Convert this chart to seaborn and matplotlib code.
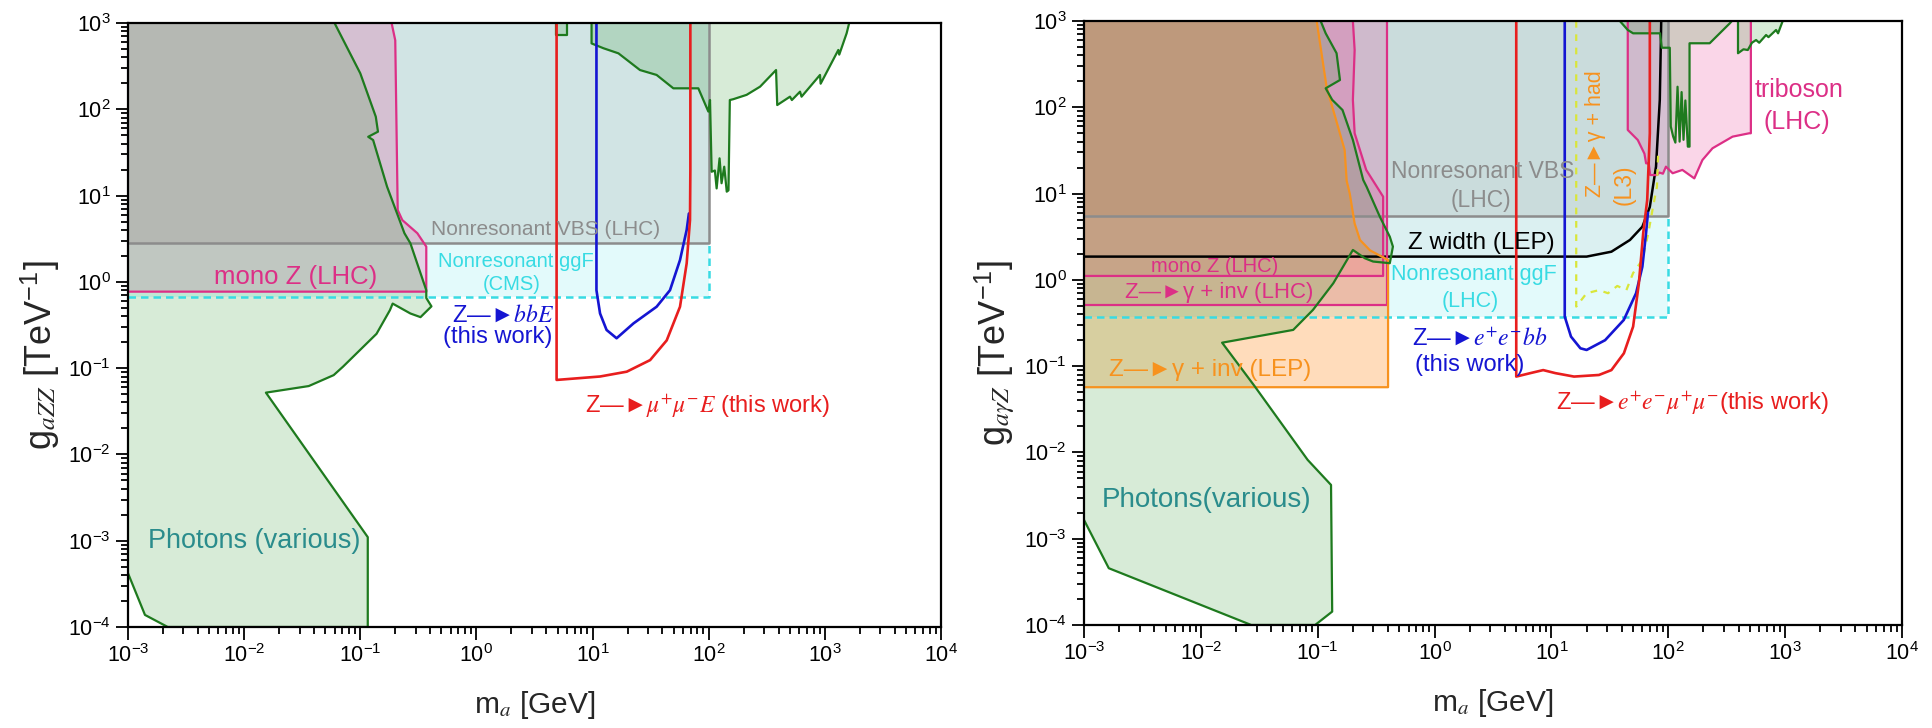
import matplotlib
matplotlib.use("Agg")
import matplotlib.pyplot as plt
import seaborn as sns

# ---------------- left panel: g_aZZ ----------------
# photon bounds (various)
photon_l_m = [0.06, 0.1, 0.136, 0.142, 0.117, 0.129, 0.17, 0.24, 0.27, 0.37, 0.37, 0.41, 0.33,
              0.27, 0.19, 0.18, 0.138, 0.071, 0.059, 0.036, 0.0154, 0.116, 0.116, 2.2e-3, 1.4e-3, 1e-3]
photon_l_g = [1000, 261, 82, 55, 48, 44, 12.7, 3.66, 2.8, 0.8, 0.65, 0.52, 0.39,
              0.43, 0.56, 0.47, 0.25, 0.104, 0.083, 0.062, 0.052, 1.1e-3, 1e-4, 1e-4, 1.38e-4, 4.2e-4]
# collider bounds at higher mass
coll_l1_m = [4.8, 4.8, 6.0, 6.0]
coll_l1_g = [1000, 725, 725, 1000]
coll_l2_m = [9.8, 9.8, 12.4, 16.7, 25.6, 35.6, 49.6, 81.4, 99.3, 102.6, 106, 113, 117, 124, 129,
             136, 143, 148, 152, 163, 212, 277, 380, 389, 501, 520, 611, 630, 908, 920, 1306,
             1330, 1540, 1620]
coll_l2_g = [1000, 580, 510, 445, 285, 250, 175, 175, 94, 128, 18.9, 19.5, 12.1, 27, 13.9,
             21.6, 11.1, 11.5, 128, 131, 147, 183, 285, 112, 140, 128, 160, 140, 250, 198, 487,
             430, 760, 1000]
# mono Z (LHC)
monoz_l_m = [1e-3, 0.37, 0.37, 0.31, 0.23, 0.21, 0.2, 0.186]
monoz_l_g = [0.77, 0.77, 2.56, 3.66, 5.2, 6.8, 630, 1000]
# nonresonant VBS (LHC) and ggF (CMS)
vbs_l_m = [1e-3, 100, 100]
vbs_l_g = [2.84, 2.84, 1000]
ggf_l_m = [1e-3, 100, 100]
ggf_l_g = [0.67, 0.67, 2.84]
# Z -> mu mu E (this work)
mumu_m = [4.9, 4.9, 11.6, 19.7, 31.3, 43.5, 56.6, 64.6, 69.0, 69.5, 69.5]
mumu_g = [1000, 0.073, 0.080, 0.091, 0.124, 0.21, 0.515, 1.64, 5.2, 20, 1000]
# Z -> bbE (this work)
bbE_m = [10.8, 10.8, 11.6, 13.2, 16.1, 22.5, 35.6, 46.4, 56.6, 64.6, 67.5]
bbE_g = [1000, 0.8, 0.43, 0.277, 0.222, 0.33, 0.515, 0.8, 1.79, 4.0, 6.2]

# ---------------- right panel: g_aγZ ----------------
photon_r_m = [0.106, 0.117, 0.145, 0.155, 0.117, 0.133, 0.163, 0.2, 0.245, 0.262, 0.34, 0.414,
              0.44, 0.414, 0.298, 0.253, 0.2, 0.136, 0.091, 0.0617, 0.0152, 0.029, 0.082, 0.13,
              0.133, 0.095, 0.027, 1.63e-3, 1e-3]
photon_r_g = [1000, 720, 423, 207, 166, 122, 93, 41.8, 14.4, 12, 5.4, 3.16,
              2.43, 1.56, 1.63, 1.78, 2.22, 0.914, 0.448, 0.263, 0.187, 0.058, 8.2e-3, 4.2e-3,
              1.43e-4, 1e-4, 1e-4, 4.55e-4, 1.65e-3]
coll_r1_m = [38.5, 45, 50, 85, 88, 103, 105, 110, 115, 120, 125, 130, 135, 140, 147, 152,
             152, 226, 336, 350]
coll_r1_g = [1000, 787, 720, 720, 490, 490, 60, 46, 39, 173, 40, 150, 42, 120, 35, 35,
             552, 552, 940, 1000]
coll_r2_m = [395, 395, 440, 479, 520, 564, 600, 687, 720, 836, 870, 953]
coll_r2_g = [1000, 423, 470, 461, 560, 602, 560, 688, 650, 787, 720, 1000]
# Z -> γ + inv (LEP)
lep_m = [1e-3, 0.4, 0.4, 0.28, 0.23, 0.207, 0.188, 0.177, 0.17, 0.119, 0.098]
lep_g = [0.057, 0.057, 1.7, 2.2, 2.9, 4.5, 10, 14, 32, 173, 1000]
# Z -> γ + inv (LHC)
ginv_m = [1e-3, 0.39, 0.39]
ginv_g = [0.51, 0.51, 1000]
# mono Z (LHC)
monoz_r_m = [1e-3, 0.363, 0.363, 0.26, 0.207, 0.2, 0.207, 0.2]
monoz_r_g = [1.11, 1.11, 9.2, 18.8, 50, 122, 461, 1000]
# triboson (LHC)
tri_m = [45, 45, 54.8, 62.5, 64.6, 68, 70, 80, 84, 90, 95.5, 109, 132, 167, 196, 239, 355,
         493, 509, 509]
tri_g = [1000, 54.6, 41.8, 29, 22.4, 22.4, 16.4, 16.4, 17.5, 17, 20.5, 17.2, 18.8, 15, 24.5,
         33.5, 45.7, 50, 50, 1000]
vbs_r_m = [1e-3, 100, 100]
vbs_r_g = [5.5, 5.5, 1000]
ggf_r_m = [1e-3, 100, 100]
ggf_r_g = [0.375, 0.375, 5.5]
# Z width (LEP)
zw_m = [1e-3, 20, 32.6, 47, 60, 69.5, 78.5, 84.6, 87]
zw_g = [1.86, 1.86, 2.12, 2.9, 4.13, 7, 20.5, 122, 1000]
# Z -> γ + had (L3)
had_m = [16.3, 16.3, 20, 25.5, 30.5, 36.6, 43.8, 50, 60, 67.5, 74, 80, 82]
had_g = [1000, 0.49, 0.7, 0.76, 0.7, 0.85, 0.76, 1.2, 1.7, 3.5, 7, 12, 30]
# Z -> e e mu mu (this work)
eemm_m = [5, 5, 6.6, 8.5, 10.8, 15.6, 25.5, 32.6, 41.7, 50, 56, 61, 66, 69.5, 69.5]
eemm_g = [1000, 0.0757, 0.083, 0.090, 0.083, 0.0757, 0.079, 0.090, 0.141, 0.287, 0.91, 3.47,
          8.4, 50, 1000]
# Z -> e e bb (this work)
eebb_m = [13, 13, 14.7, 17.7, 20, 28.8, 41.6, 53, 60, 64.5, 67]
eebb_g = [1000, 0.375, 0.22, 0.161, 0.154, 0.2, 0.343, 0.7, 1.42, 3.47, 6]

# ---------------- styling ----------------
sns.set_style("ticks")
plt.rcParams["font.family"] = ["Liberation Sans", "DejaVu Sans"]
plt.rcParams["mathtext.fontset"] = "stix"

GREEN_E = "#1e7a1e"
GREEN_F = (0.22, 0.61, 0.22, 0.2)
PINK_E = "#dc2f86"
PINK_F = (0.9, 0.2, 0.55, 0.2)
GRAY_E = "#8c8c8c"
GRAY_F = (0.5, 0.5, 0.5, 0.18)
CYAN_E = "#38dbe3"
CYAN_F = (0.12, 0.84, 0.9, 0.12)
ORANGE_E = "#f7921e"
ORANGE_F = (1.0, 0.55, 0.12, 0.3)
RED = "#e81e1e"
BLUE = "#1515d2"
TEAL = "#2a8c8c"
ARROW = "\u2014\u25BA"

fig = plt.figure(figsize=(19.33, 7.28), dpi=100)
axL = fig.add_axes([128 / 1933, 1 - 627 / 728, 813 / 1933, 604 / 728])
axR = fig.add_axes([1084 / 1933, 1 - 625 / 728, 818 / 1933, 604 / 728])


def region(ax, m, g, cm, cg, face, edge, lw=1.6, ls="-", z=1):
    ax.fill(list(m) + cm, list(g) + cg, facecolor=face, edgecolor="none", zorder=z)
    ax.plot(m, g, color=edge, lw=lw, ls=ls, zorder=z + 2)


def curve(ax, m, g, color, lw=1.9, ls="-"):
    sns.lineplot(x=m, y=g, sort=False, estimator=None, ax=ax, color=color, lw=lw,
                 linestyle=ls, zorder=5)


for ax in (axL, axR):
    ax.set_xscale("log")
    ax.set_yscale("log")

# left panel regions
region(axL, ggf_l_m, ggf_l_g, [100, 1e-3], [1000, 1000], CYAN_F, CYAN_E, lw=1.8, ls=(0, (3, 2)))
region(axL, vbs_l_m, vbs_l_g, [1e-3], [1000], GRAY_F, GRAY_E, lw=1.8)
region(axL, monoz_l_m, monoz_l_g, [1e-3], [1000], PINK_F, PINK_E)
region(axL, photon_l_m, photon_l_g, [1e-3], [1000], GREEN_F, GREEN_E)
region(axL, coll_l1_m, coll_l1_g, [], [], GREEN_F, GREEN_E)
region(axL, coll_l2_m, coll_l2_g, [], [], GREEN_F, GREEN_E)
curve(axL, bbE_m, bbE_g, BLUE)
curve(axL, mumu_m, mumu_g, RED)

# right panel regions
region(axR, ggf_r_m, ggf_r_g, [100, 1e-3], [1000, 1000], CYAN_F, CYAN_E, lw=1.8, ls=(0, (3, 2)))
region(axR, vbs_r_m, vbs_r_g, [1e-3], [1000], GRAY_F, GRAY_E, lw=1.8)
region(axR, zw_m, zw_g, [1e-3], [1000], (0.5, 0.5, 0.5, 0.08), "black", lw=1.8)
region(axR, ginv_m, ginv_g, [1e-3], [1000], PINK_F, PINK_E)
region(axR, monoz_r_m, monoz_r_g, [1e-3], [1000], PINK_F, PINK_E)
region(axR, tri_m, tri_g, [], [], PINK_F, PINK_E)
region(axR, lep_m, lep_g, [1e-3], [1000], ORANGE_F, ORANGE_E)
region(axR, photon_r_m, photon_r_g, [1e-3], [1000], GREEN_F, GREEN_E)
region(axR, coll_r1_m, coll_r1_g, [], [], GREEN_F, GREEN_E)
region(axR, coll_r2_m, coll_r2_g, [], [], GREEN_F, GREEN_E)
curve(axR, had_m, had_g, "#d9e63a", lw=1.6, ls=(0, (3, 3)))
curve(axR, eebb_m, eebb_g, BLUE)
curve(axR, eemm_m, eemm_g, RED)

# left panel labels
tk = dict(ha="center", va="center", zorder=6)
axL.text(3.97, 4.0, "Nonresonant VBS (LHC)", color=GRAY_E, fontsize=15, **tk)
axL.text(0.028, 1.15, "mono Z (LHC)", color=PINK_E, fontsize=18.5, **tk)
axL.text(2.19, 1.70, "Nonresonant ggF", color=CYAN_E, fontsize=14.5, **tk)
axL.text(2.02, 0.92, "(CMS)", color=CYAN_E, fontsize=14.5, **tk)
axL.text(1.69, 0.41, "Z" + ARROW + r"$bbE$", color=BLUE, fontsize=17, **tk)
axL.text(1.53, 0.232, "(this work)", color=BLUE, fontsize=17, **tk)
axL.text(8.6, 0.0358, "Z" + ARROW + r"$\mu^{+}\mu^{-}E$" + " (this work)", color=RED,
         fontsize=17, ha="left", va="center", zorder=6)
axL.text(0.0123, 9.8e-4, "Photons (various)", color=TEAL, fontsize=19.5, **tk)

# right panel labels
axR.text(2.56, 17.9, "Nonresonant VBS", color=GRAY_E, fontsize=16.5, **tk)
axR.text(2.49, 8.4, "(LHC)", color=GRAY_E, fontsize=16.5, **tk)
axR.text(2.5, 2.65, "Z width (LEP)", color="black", fontsize=17.5, **tk)
axR.text(0.0131, 1.42, "mono Z (LHC)", color=PINK_E, fontsize=14.5, **tk)
axR.text(0.0143, 0.71, "Z" + ARROW + "\u03b3 + inv (LHC)", color=PINK_E, fontsize=16, **tk)
axR.text(2.15, 1.14, "Nonresonant ggF", color=CYAN_E, fontsize=15.5, **tk)
axR.text(2.03, 0.56, "(LHC)", color=CYAN_E, fontsize=15.5, **tk)
axR.text(2.42, 0.21, "Z" + ARROW + r"$e^{+}e^{-}bb$", color=BLUE, fontsize=17, **tk)
axR.text(2.0, 0.103, "(this work)", color=BLUE, fontsize=17, **tk)
axR.text(0.012, 0.09, "Z" + ARROW + "\u03b3 + inv (LEP)", color=ORANGE_E, fontsize=17.5, **tk)
axR.text(10.9, 0.037, "Z" + ARROW + r"$e^{+}e^{-}\mu^{+}\mu^{-}$" + "(this work)", color=RED,
         fontsize=17, ha="left", va="center", zorder=6)
axR.text(0.0112, 2.8e-3, "Photons(various)", color=TEAL, fontsize=20, **tk)
axR.text(1305, 158, "triboson", color=PINK_E, fontsize=18, **tk)
axR.text(1260, 68, "(LHC)", color=PINK_E, fontsize=18, **tk)
axR.text(24, 50, "Z" + ARROW + "\u03b3 + had", color=ORANGE_E, fontsize=15.5, rotation=90, **tk)
axR.text(41.7, 12.6, "(L3)", color=ORANGE_E, fontsize=16.5, rotation=90, **tk)

# axes frames, ticks and titles
for ax, ylab in ((axL, r"g$_{aZZ}$ [TeV$^{\mathdefault{-1}}$]"),
                 (axR, r"g$_{a\gamma Z}$ [TeV$^{\mathdefault{-1}}$]")):
    ax.set_xlim(1e-3, 1e4)
    ax.set_ylim(1e-4, 1e3)
    for s in ax.spines.values():
        s.set_visible(True)
        s.set_linewidth(1.6)
        s.set_color("black")
        s.set_zorder(7)
    ax.tick_params(which="both", direction="out", top=False, right=False, width=1.3,
                   colors="black", labelsize=15.5)
    ax.tick_params(which="major", length=9)
    ax.tick_params(which="minor", length=5)
    ax.xaxis.set_major_locator(matplotlib.ticker.LogLocator(base=10, numticks=20))
    ax.xaxis.set_minor_locator(matplotlib.ticker.LogLocator(base=10, subs=range(2, 10), numticks=20))
    ax.yaxis.set_major_locator(matplotlib.ticker.LogLocator(base=10, numticks=20))
    ax.yaxis.set_minor_locator(matplotlib.ticker.LogLocator(base=10, subs=range(2, 10), numticks=20))
    ax.xaxis.set_minor_formatter(matplotlib.ticker.NullFormatter())
    ax.yaxis.set_minor_formatter(matplotlib.ticker.NullFormatter())
    ax.set_xlabel(r"m$_{a}$ [GeV]", fontsize=21.5, labelpad=16)
    ax.set_ylabel(ylab, fontsize=26)
    ax.yaxis.set_label_coords(-0.082, 0.45)
    ax.set_facecolor("white")

fig.savefig("out.png", dpi=100, facecolor="white")
